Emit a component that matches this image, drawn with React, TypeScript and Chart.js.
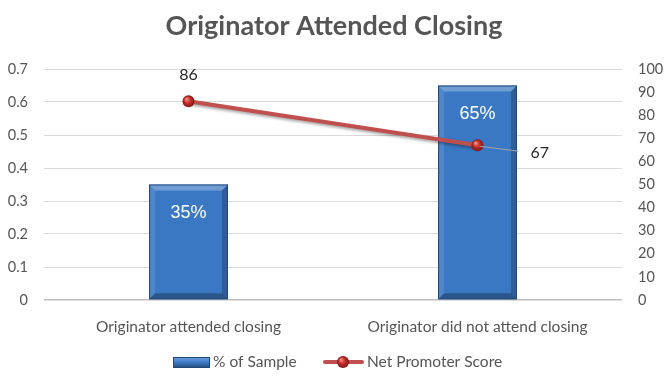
import React, { useEffect, useRef } from "react";
import { Chart, registerables } from "chart.js";

Chart.register(...registerables);

const categories = ["Originator attended closing", "Originator did not attend closing"];
const sampleShare = [0.35, 0.65];
const sampleLabels = ["35%", "65%"];
const npsValues = [86, 67];
const leftTicks = [0, 0.1, 0.2, 0.3, 0.4, 0.5, 0.6, 0.7];
const rightTicks = [0, 10, 20, 30, 40, 50, 60, 70, 80, 90, 100];
const titleText = "Originator Attended Closing";
const legendLabels = ["% of Sample", "Net Promoter Score"];

const FONT = "Lato, 'Open Sans', sans-serif";
const GREY = "#555555";
const RED = "#c0504d";
const BLUE = "#3b78c3";

function drawSphere(ctx: CanvasRenderingContext2D, x: number, y: number, r: number) {
  const g = ctx.createRadialGradient(x - r * 0.35, y - r * 0.4, r * 0.1, x, y, r);
  g.addColorStop(0, "#f08a84");
  g.addColorStop(0.45, "#c8312c");
  g.addColorStop(1, "#7d1512");
  ctx.beginPath();
  ctx.arc(x, y, r, 0, Math.PI * 2);
  ctx.fillStyle = g;
  ctx.fill();
}

function bevelBar(ctx: CanvasRenderingContext2D, l: number, t: number, r: number, b: number) {
  const bv = 6;
  ctx.save();
  ctx.beginPath();
  ctx.moveTo(l, t); ctx.lineTo(r, t); ctx.lineTo(r - bv, t + bv); ctx.lineTo(l + bv, t + bv); ctx.closePath();
  ctx.fillStyle = "rgba(255,255,255,0.28)"; ctx.fill();
  ctx.beginPath();
  ctx.moveTo(l, t); ctx.lineTo(l + bv, t + bv); ctx.lineTo(l + bv, b - bv); ctx.lineTo(l, b); ctx.closePath();
  ctx.fillStyle = "rgba(255,255,255,0.10)"; ctx.fill();
  ctx.beginPath();
  ctx.moveTo(r, t); ctx.lineTo(r - bv, t + bv); ctx.lineTo(r - bv, b - bv); ctx.lineTo(r, b); ctx.closePath();
  ctx.fillStyle = "rgba(0,0,0,0.22)"; ctx.fill();
  ctx.beginPath();
  ctx.moveTo(l, b); ctx.lineTo(l + bv, b - bv); ctx.lineTo(r - bv, b - bv); ctx.lineTo(r, b); ctx.closePath();
  ctx.fillStyle = "rgba(0,0,0,0.28)"; ctx.fill();
  ctx.strokeStyle = "#23497a"; ctx.lineWidth = 1;
  ctx.strokeRect(l + 0.5, t + 0.5, r - l - 1, b - t - 1);
  ctx.restore();
}

const decorPlugin = {
  id: "decor",
  beforeDatasetDraw(chart: any, args: any) {
    if (args.index !== 1) return;
    const ctx = chart.ctx;
    ctx.save();
    ctx.shadowColor = "rgba(0,0,0,0.35)";
    ctx.shadowBlur = 3;
    ctx.shadowOffsetX = 1;
    ctx.shadowOffsetY = 2;
  },
  afterDatasetDraw(chart: any, args: any) {
    const ctx = chart.ctx;
    if (args.index === 1) { ctx.restore(); return; }
    if (args.index !== 0) return;
    args.meta.data.forEach((bar: any) => {
      const p = bar.getProps(["x", "y", "base", "width"], true);
      bevelBar(ctx, p.x - p.width / 2, p.y, p.x + p.width / 2, p.base);
    });
  },
  afterDraw(chart: any) {
    const ctx: CanvasRenderingContext2D = chart.ctx;
    ctx.save();
    ctx.fillStyle = "#555555";
    ctx.font = `bold 27px ${FONT}`;
    ctx.textAlign = "center";
    ctx.textBaseline = "middle";
    ctx.fillText(titleText, chart.width / 2, 26);

    const barMeta = chart.getDatasetMeta(0);
    ctx.fillStyle = "#ffffff";
    ctx.font = `18px 'Liberation Sans', Arial, sans-serif`;
    barMeta.data.forEach((bar: any, i: number) => {
      ctx.fillText(sampleLabels[i], bar.x, bar.y + 29);
    });

    const lineMeta = chart.getDatasetMeta(1);
    const pts = lineMeta.data;
    pts.forEach((pt: any) => drawSphere(ctx, pt.x, pt.y, 6));
    ctx.fillStyle = "#262626";
    ctx.font = `16px ${FONT}`;
    if (pts[0]) {
      ctx.textAlign = "center";
      ctx.fillText(String(npsValues[0]), pts[0].x, pts[0].y - 26);
    }
    if (pts[1]) {
      const p = pts[1];
      ctx.strokeStyle = "#a6a6a6";
      ctx.lineWidth = 1;
      ctx.beginPath();
      ctx.moveTo(p.x + 2, p.y + 1);
      ctx.lineTo(p.x + 41, p.y + 6);
      ctx.stroke();
      ctx.textAlign = "left";
      ctx.fillText(String(npsValues[1]), p.x + 53, p.y + 8);
    }

    const ly = 362;
    const sg = ctx.createLinearGradient(0, ly - 5, 0, ly + 6);
    sg.addColorStop(0, "#6ea2e0");
    sg.addColorStop(0.5, BLUE);
    sg.addColorStop(1, "#23497a");
    ctx.fillStyle = sg;
    ctx.fillRect(173, ly - 5, 37, 11);
    ctx.strokeStyle = "#23497a";
    ctx.lineWidth = 1;
    ctx.strokeRect(173.5, ly - 4.5, 36, 10);
    ctx.fillStyle = GREY;
    ctx.font = `15.5px ${FONT}`;
    ctx.textAlign = "left";
    ctx.fillText(legendLabels[0], 213, ly);
    ctx.strokeStyle = RED;
    ctx.lineWidth = 4;
    ctx.lineCap = "round";
    ctx.beginPath();
    ctx.moveTo(325, ly);
    ctx.lineTo(362, ly);
    ctx.stroke();
    drawSphere(ctx, 343, ly, 6);
    ctx.fillStyle = GREY;
    ctx.fillText(legendLabels[1], 367, ly);
    ctx.restore();
  },
};

export default function App() {
  const ref = useRef<HTMLCanvasElement>(null);
  useEffect(() => {
    if (!ref.current) return;
    const chart = new Chart(ref.current, {
      type: "bar",
      data: {
        labels: categories,
        datasets: [
          {
            type: "bar",
            label: legendLabels[0],
            data: sampleShare,
            yAxisID: "y",
            backgroundColor: BLUE,
            borderWidth: 0,
            barPercentage: 0.273,
            categoryPercentage: 1,
            order: 2,
          },
          {
            type: "line",
            label: legendLabels[1],
            data: npsValues,
            yAxisID: "y1",
            borderColor: RED,
            borderWidth: 4,
            pointRadius: 0,
            pointHoverRadius: 0,
            order: 1,
          } as any,
        ],
      },
      options: {
        animation: false,
        responsive: true,
        maintainAspectRatio: false,
        layout: { padding: { top: 69, left: 0, right: 0, bottom: 0 } },
        plugins: { legend: { display: false }, title: { display: false }, tooltip: { enabled: false } },
        scales: {
          x: {
            grid: { display: false },
            border: { display: false },
            ticks: { color: GREY, font: { family: FONT, size: 15.5 }, padding: 10, maxRotation: 0 },
            afterFit: (s: any) => { s.height = 83; },
          },
          y: {
            position: "left",
            min: 0,
            max: 0.7,
            afterBuildTicks: (s: any) => { s.ticks = leftTicks.map((v) => ({ value: v })); },
            ticks: { color: GREY, font: { family: FONT, size: 14.5 }, padding: 16 },
            grid: {
              drawTicks: false,
              color: (c: any) => (c.tick && c.tick.value === 0 ? "#bfbfbf" : "#d9d9d9"),
              lineWidth: (c: any) => (c.tick && c.tick.value === 0 ? 1.5 : 1),
            },
            border: { display: false },
            afterFit: (s: any) => { s.width = 44; },
          },
          y1: {
            position: "right",
            min: 0,
            max: 100,
            afterBuildTicks: (s: any) => { s.ticks = rightTicks.map((v) => ({ value: v })); },
            ticks: { color: GREY, font: { family: FONT, size: 14.5 }, padding: 16 },
            grid: { display: false, drawTicks: false },
            border: { display: false },
            afterFit: (s: any) => { s.width = 46; },
          },
        },
      },
      plugins: [decorPlugin],
    });
    return () => chart.destroy();
  }, []);
  return (
    <div style={{ position: "fixed", left: 0, top: 0, width: 668, height: 383, background: "#fff" }}>
      <canvas ref={ref} />
    </div>
  );
}
